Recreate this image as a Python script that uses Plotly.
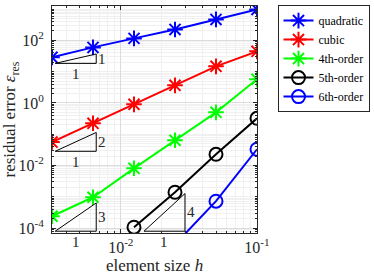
import numpy as np
import plotly.graph_objects as go

# ---- data ----
h = [0.003125, 0.00625, 0.0125, 0.025, 0.05, 0.1]
err_quadratic = [28.7, 59.7, 116, 224, 469, 977]
err_cubic = [0.056, 0.223, 0.90, 3.65, 14.8, 44.6]
err_4th = [2.38e-4, 9.6e-4, 8.1e-3, 0.0638, 0.50, 5.68]
h_5th = [0.0125, 0.025, 0.05, 0.1]
err_5th = [1.06e-4, 1.39e-3, 0.0228, 0.322]
h_6th = [0.025, 0.05, 0.1]
err_6th = [3.0e-5, 7.2e-4, 0.033]

series_names = ["quadratic", "cubic", "4th-order", "5th-order", "6th-order"]
series_colors = ["#0000FF", "#FF0000", "#00FF00", "#000000", "#0000FF"]

# slope triangles
tri_h0 = [0.0033, 0.0033, 0.0033, 0.0148]
tri_e0 = [18.4, 0.0284, 7.9e-5, 7.9e-5]
tri_order = [1, 2, 3, 4]

xtick_vals = [0.01, 0.1]
xtick_text = ["10<sup>-2</sup>", "10<sup>-1</sup>"]
ytick_vals = [1e-4, 1e-2, 1e0, 1e2]
ytick_text = ["10<sup>-4</sup>", "10<sup>-2</sup>", "10<sup>0</sup>", "10<sup>2</sup>"]

FONT = "Liberation Serif, Times New Roman, serif"

fig = go.Figure()

xs = [h, h, h, h_5th, h_6th]
ys = [err_quadratic, err_cubic, err_4th, err_5th, err_6th]
symbols = ["asterisk-open", "asterisk-open", "asterisk-open", "circle-open", "circle-open"]
for name, col, x, y, sym in zip(series_names, series_colors, xs, ys, symbols):
    fig.add_trace(go.Scatter(
        x=x, y=y, name=name, mode="lines+markers",
        line=dict(color=col, width=2),
        marker=dict(symbol=sym, size=13, color=col, line=dict(color=col, width=2)),
    ))

annotations = []
for h0, e0, p in zip(tri_h0, tri_e0, tri_order):
    tx = [h0, 2 * h0, 2 * h0, h0]
    ty = [e0, e0, e0 * 2 ** p, e0]
    fig.add_trace(go.Scatter(x=tx, y=ty, mode="lines", showlegend=False,
                             line=dict(color="black", width=1), hoverinfo="skip"))
    annotations.append(dict(x=np.log10(h0 * np.sqrt(2)), y=np.log10(e0), text="1",
                            showarrow=False, yshift=-11, xref="x", yref="y",
                            font=dict(family=FONT, size=15, color="#262626")))
    annotations.append(dict(x=np.log10(2 * h0), y=np.log10(e0 * 2 ** (p / 2)), text=str(p),
                            showarrow=False, xshift=6, xref="x", yref="y",
                            font=dict(family=FONT, size=15, color="#262626")))

axis_common = dict(
    type="log", showline=True, linecolor="#262626", linewidth=1, mirror="allticks",
    ticks="inside", ticklen=4, tickcolor="#262626", automargin=False,
    showgrid=True, gridcolor="#dcdcdc", gridwidth=1, zeroline=False,
    tickfont=dict(family=FONT, size=16, color="#262626"),
)

fig.update_layout(
    width=374, height=277,
    margin=dict(l=52, r=113, t=5, b=44),
    paper_bgcolor="white", plot_bgcolor="white",
    font=dict(family=FONT, color="#262626"),
    xaxis=dict(**axis_common, range=[np.log10(h[0]), np.log10(h[-1])],
               tickvals=xtick_vals, ticktext=xtick_text,
               minor=dict(dtick="D1", ticks="inside", ticklen=2, tickcolor="#262626",
                          showgrid=True, gridcolor="#f0f0f0"),
               title=dict(text="element size <i>h</i>", font=dict(family=FONT, size=17),
                          standoff=0)),
    yaxis=dict(**axis_common, range=[-4.16, 3.1],
               tickvals=ytick_vals, ticktext=ytick_text, ticklabelstandoff=4,
               minor=dict(dtick="D1", ticks="inside", ticklen=2, tickcolor="#262626",
                          showgrid=True, gridcolor="#f0f0f0"),
               title=dict(text="residual error <i>ε</i><sub>res</sub>",
                          font=dict(family=FONT, size=17), standoff=2)),
    legend=dict(x=1.1, y=1.004, xanchor="left", yanchor="top",
                bordercolor="#262626", borderwidth=1, bgcolor="white",
                font=dict(family=FONT, size=12, color="black"),
                tracegroupgap=0, itemwidth=30),
    annotations=annotations,
    showlegend=True,
)

fig.write_html("out.html", config={"displayModeBar": False},
               post_script="document.body.style.margin='0';document.body.style.padding='0';")
